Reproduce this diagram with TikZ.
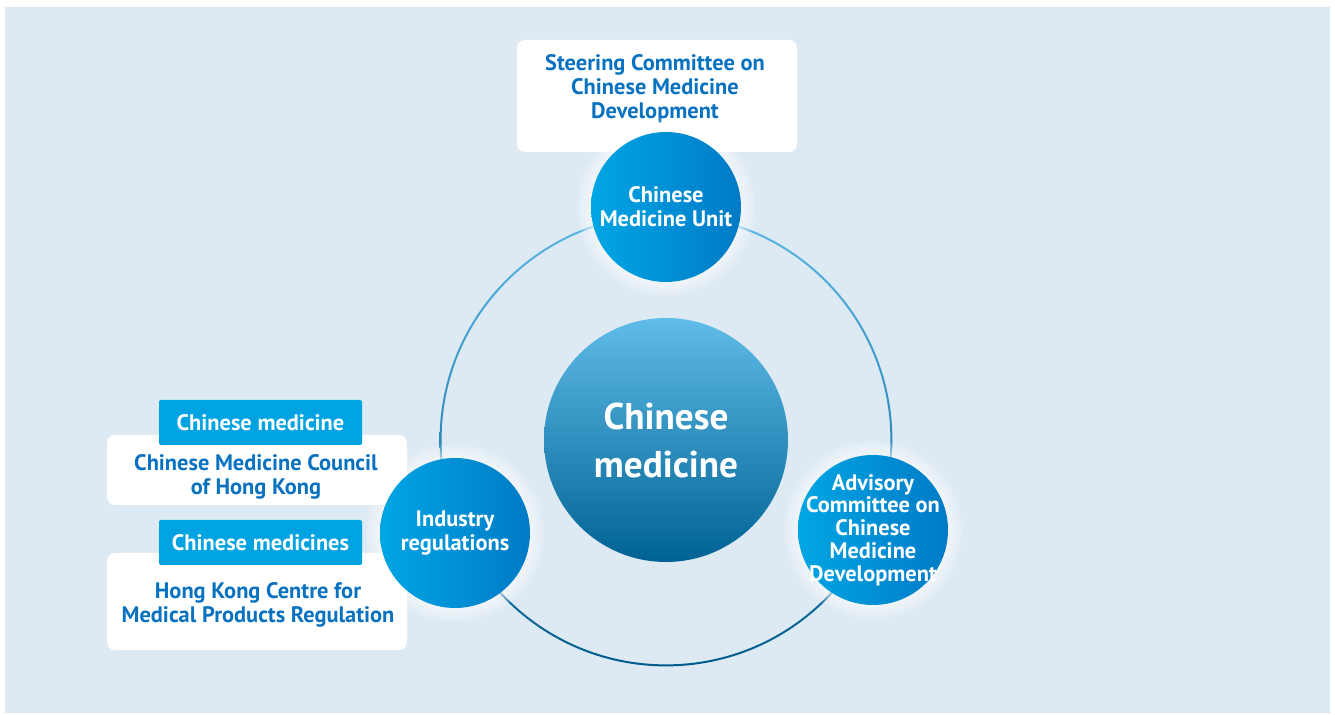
\documentclass[tikz,border=0pt]{standalone}
\usepackage{fontspec}
\setmainfont{PT Sans}
\usetikzlibrary{positioning}

\definecolor{bgblue}{RGB}{221,234,244}
\definecolor{txtblue}{RGB}{8,114,192}
\definecolor{tabblue}{RGB}{0,163,226}
\definecolor{unitlight}{RGB}{0,166,228}
\definecolor{unitdark}{RGB}{0,122,198}
\definecolor{corelight}{RGB}{96,188,232}
\definecolor{coredark}{RGB}{0,98,148}
\definecolor{ringlight}{RGB}{92,184,230}
\definecolor{ringdark}{RGB}{0,92,140}

\tikzset{
  boxfont/.style={font=\bfseries\fontsize{11.2}{12}\selectfont},
  whitebox/.style={fill=white, rounded corners=4pt, inner sep=0pt},
  tabbox/.style={fill=tabblue, rounded corners=1pt, text=white, boxfont,
    minimum width=101.5pt, minimum height=22.5pt, inner sep=0pt},
  boxtext/.style={text=txtblue, boxfont, align=center},
  unit/.style={circle, minimum size=75pt, inner sep=0pt, left color=unitlight,
    right color=unitdark},
  unittext/.style={text=white, boxfont, align=center, inner sep=0pt},
  glow/.style={white, opacity=0.12},
}

\begin{document}
\begin{tikzpicture}[x=0.5pt,y=-0.5pt]
  \useasboundingbox (0,0) rectangle (1335,715);
  \fill [white] (0,0) rectangle (1335,715);
  \fill [bgblue] (5,7) rectangle (1330,713);

  % boxes
  \node [whitebox, minimum width=140pt, minimum height=56pt] (steerbox) at (657,96) {};
  \node [boxtext] (steer) at (655,89) {Steering Committee on\\Chinese Medicine\\Development};

  \node [whitebox, minimum width=150pt, minimum height=35pt] (councilbox) at (257,470) {};
  \node [boxtext] (council) at (256,477) {Chinese Medicine Council\\of Hong Kong};
  \node [tabbox] (cmtab) at (260.5,422.5) {Chinese medicine};

  \node [whitebox, minimum width=150pt, minimum height=48.5pt] (centrebox) at (257,601.5) {};
  \node [boxtext] (centre) at (258,605) {Hong Kong Centre for\\Medical Products Regulation};
  \node [tabbox] (cmstab) at (260.5,542.5) {Chinese medicines};

  % ring
  \coordinate (core) at (666,440);
  \shade [top color=ringlight, bottom color=ringdark, even odd rule]
    (core) circle [radius=113.2pt] circle [radius=112.2pt];

  \node [circle, minimum size=122pt, inner sep=0pt, shading angle=20,
    top color=corelight, bottom color=coredark, text=white, align=center,
    font=\bfseries\fontsize{18.6}{24}\selectfont] (cm) at (core) {Chinese\\medicine};

  % small circles
  \coordinate (cmu) at (666,207);
  \coordinate (acd) at (873,530);
  \coordinate (ind) at (455,533);
  \foreach \c in {cmu,acd,ind}
    \foreach \r in {1,...,7}
      \fill [glow] (\c) circle [radius=37.5pt+\r pt];

  \node [unit] (unit) at (cmu) {};
  \node [unittext] at (unit) {Chinese\\Medicine Unit};
  \node [unit] (advisory) at (acd) {};
  \node [unittext, font=\bfseries\fontsize{11.2}{11.4}\selectfont] at (advisory)
    {Advisory\\Committee on\\Chinese\\Medicine\\Development};
  \node [unit] (industry) at (ind) {};
  \node [unittext] at (industry) {Industry\\regulations};
\end{tikzpicture}
\end{document}
